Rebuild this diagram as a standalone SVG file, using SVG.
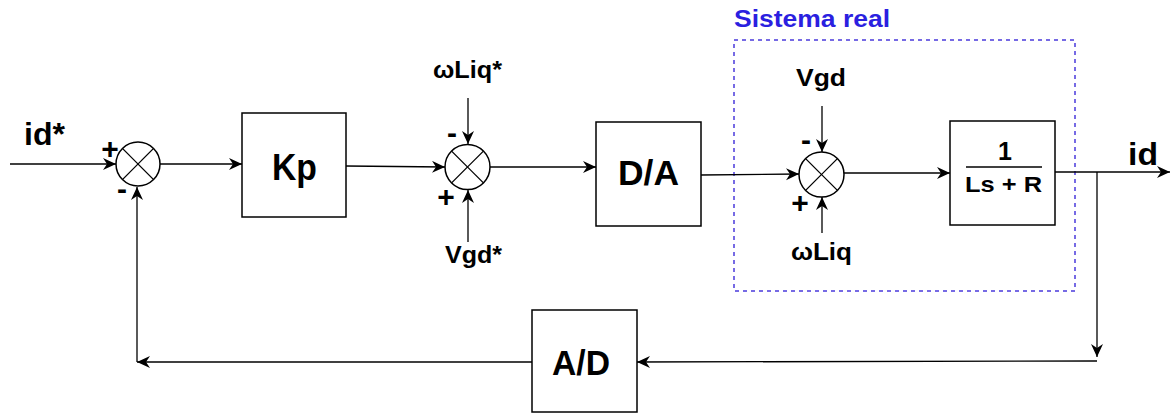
<svg xmlns="http://www.w3.org/2000/svg" width="1172" height="414" viewBox="0 0 1172 414">
<style>
.blk{fill:#fff;stroke:#000;stroke-width:1.5}
.sum{fill:#fff;stroke:#000;stroke-width:1.5}
.x{stroke:#000;stroke-width:1.3}
.ln{fill:none;stroke:#000;stroke-width:1.3}
.t{font-family:"Liberation Sans",Arial,sans-serif;font-weight:bold;fill:#000}
.sg{font-family:"Liberation Sans",Arial,sans-serif;font-weight:bold;fill:#000;text-anchor:middle}
</style>
<defs>
<marker id="ah" markerWidth="16" markerHeight="14" refX="13" refY="6" orient="auto" markerUnits="userSpaceOnUse">
<path d="M0,0 L13,6 L0,12 L4,6 z" fill="#000"/>
</marker>
</defs>
<rect width="1172" height="414" fill="#fff"/>

<g id="sistema-real">
<rect x="734" y="40" width="341" height="251" fill="none" stroke="#4a3adb" stroke-width="1.5" stroke-dasharray="4 4"/>
<text x="734" y="27" class="t" font-size="24" style="fill:#2b1fe0" textLength="156" lengthAdjust="spacingAndGlyphs">Sistema real</text>
</g>

<g id="connectors">
<line class="ln" x1="10" y1="164" x2="116" y2="164" marker-end="url(#ah)"/>
<line class="ln" x1="160" y1="164" x2="242" y2="164" marker-end="url(#ah)"/>
<line class="ln" x1="346" y1="166" x2="445" y2="167" marker-end="url(#ah)"/>
<line class="ln" x1="468" y1="98" x2="468" y2="144" marker-end="url(#ah)"/>
<line class="ln" x1="468" y1="242" x2="468" y2="190" marker-end="url(#ah)"/>
<line class="ln" x1="490" y1="167" x2="596" y2="167" marker-end="url(#ah)"/>
<line class="ln" x1="701" y1="175" x2="799" y2="174" marker-end="url(#ah)"/>
<line class="ln" x1="822" y1="106" x2="822" y2="152" marker-end="url(#ah)"/>
<line class="ln" x1="822" y1="233" x2="822" y2="197" marker-end="url(#ah)"/>
<line class="ln" x1="844" y1="173" x2="950" y2="173" marker-end="url(#ah)"/>
<line class="ln" x1="1055" y1="172" x2="1170" y2="172" marker-end="url(#ah)"/>
<line class="ln" x1="1097" y1="172" x2="1097" y2="357" marker-end="url(#ah)"/>
<line class="ln" x1="1097" y1="361" x2="637" y2="362" marker-end="url(#ah)"/>
<line class="ln" x1="532" y1="362" x2="137" y2="362" marker-end="url(#ah)"/>
<line class="ln" x1="137" y1="362" x2="137" y2="187" marker-end="url(#ah)"/>
</g>

<g id="input-label">
<text x="24" y="145" class="t" font-size="31" textLength="41" lengthAdjust="spacingAndGlyphs">id*</text>
</g>

<g id="sum1">
<circle class="sum" cx="138" cy="164" r="22"/>
<line class="x" x1="122.4" y1="148.4" x2="153.6" y2="179.6"/>
<line class="x" x1="153.6" y1="148.4" x2="122.4" y2="179.6"/>
<text x="110" y="159" class="sg" font-size="30">+</text>
<text x="122" y="199" class="sg" font-size="30">-</text>
</g>

<g id="kp">
<rect class="blk" x="242" y="113" width="104" height="104"/>
<text x="272" y="180" class="t" font-size="36" textLength="45" lengthAdjust="spacingAndGlyphs">Kp</text>
</g>

<g id="sum2">
<circle class="sum" cx="467.5" cy="167" r="22.5"/>
<line class="x" x1="451.6" y1="151.1" x2="483.4" y2="182.9"/>
<line class="x" x1="483.4" y1="151.1" x2="451.6" y2="182.9"/>
<text x="452" y="143" class="sg" font-size="30">-</text>
<text x="446" y="207" class="sg" font-size="30">+</text>
<text x="433" y="78" class="t" font-size="24" textLength="69" lengthAdjust="spacingAndGlyphs">ωLiq*</text>
<text x="445" y="263" class="t" font-size="24" textLength="57" lengthAdjust="spacingAndGlyphs">Vgd*</text>
</g>

<g id="da">
<rect class="blk" x="596" y="122" width="105" height="104"/>
<text x="618" y="185" class="t" font-size="35" textLength="61" lengthAdjust="spacingAndGlyphs">D/A</text>
</g>

<g id="sum3">
<circle class="sum" cx="821.5" cy="174.5" r="22.5"/>
<line class="x" x1="805.6" y1="158.6" x2="837.4" y2="190.4"/>
<line class="x" x1="837.4" y1="158.6" x2="805.6" y2="190.4"/>
<text x="806" y="150" class="sg" font-size="30">-</text>
<text x="800" y="213" class="sg" font-size="30">+</text>
<text x="796" y="86" class="t" font-size="24" textLength="50" lengthAdjust="spacingAndGlyphs">Vgd</text>
<text x="791" y="260" class="t" font-size="24" textLength="61" lengthAdjust="spacingAndGlyphs">ωLiq</text>
</g>

<g id="plant">
<rect class="blk" x="950" y="121" width="105" height="104"/>
<text x="1005" y="160" class="sg" font-size="25">1</text>
<line x1="966" y1="167" x2="1042" y2="167" stroke="#000" stroke-width="1.5"/>
<text x="965" y="192" class="t" font-size="22" textLength="77" lengthAdjust="spacingAndGlyphs">Ls + R</text>
</g>

<g id="output-label">
<text x="1128" y="165" class="t" font-size="32" textLength="30" lengthAdjust="spacingAndGlyphs">id</text>
</g>

<g id="ad">
<rect class="blk" x="532" y="310" width="105" height="102"/>
<text x="552" y="375" class="t" font-size="35" textLength="58" lengthAdjust="spacingAndGlyphs">A/D</text>
</g>
</svg>
